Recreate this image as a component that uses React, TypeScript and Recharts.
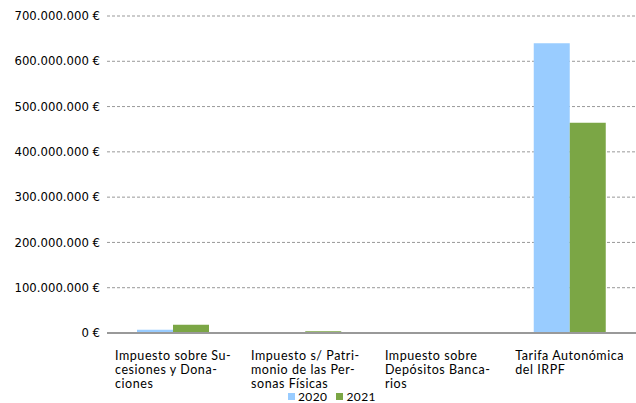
import React from 'react';
import { BarChart, Bar, XAxis, YAxis, CartesianGrid } from 'recharts';

const categories = [
  'Impuesto sobre Sucesiones y Donaciones',
  'Impuesto s/ Patrimonio de las Personas Físicas',
  'Impuesto sobre Depósitos Bancarios',
  'Tarifa Autonómica del IRPF',
];
// wrapped tick text, as in the original
const tickLines = [
  ['Impuesto sobre Su-', 'cesiones y Dona-', 'ciones'],
  ['Impuesto s/ Patri-', 'monio de las Per-', 'sonas Físicas'],
  ['Impuesto sobre', 'Depósitos Banca-', 'rios'],
  ['Tarifa Autonómica', 'del IRPF'],
];
const values2020 = [7000000, 1500000, 300000, 640000000];
const values2021 = [18000000, 4000000, 300000, 464000000];
const yTicks = [0, 100000000, 200000000, 300000000, 400000000, 500000000, 600000000, 700000000];

const data = categories.map((name, i) => ({
  name,
  y2020: values2020[i],
  y2021: values2021[i],
}));

const BLUE = '#99CCFF';
const GREEN = '#7BA645';
const LABEL_FONT = '12.5px Lato';
const LABEL_SPACING = '0.55px';

const fmtEuro = (v: number) =>
  String(Math.round(v)).replace(/\B(?=(\d{3})+(?!\d))/g, '.') + ' €';

let canvas: HTMLCanvasElement | null = null;
const measure = (s: string) => {
  if (!canvas) canvas = document.createElement('canvas');
  const ctx = canvas.getContext('2d') as any;
  ctx.font = LABEL_FONT;
  ctx.letterSpacing = LABEL_SPACING;
  return ctx.measureText(s).width;
};

const CategoryTick = (props: any) => {
  const { x, y, payload } = props;
  const lines = tickLines[payload.index] || [String(payload.value)];
  const w = Math.max(...lines.map(measure));
  return (
    <g>
      {lines.map((l, i) => (
        <text
          key={i}
          x={x - w / 2}
          y={y + 18.5 + i * 14}
          textAnchor="start"
          fill="#000"
          style={{ font: LABEL_FONT, letterSpacing: LABEL_SPACING }}
        >
          {l}
        </text>
      ))}
    </g>
  );
};

export default function App() {
  return (
    <div style={{ position: 'relative', width: 636, height: 403, background: '#fff' }}>
      <style>{'body{margin:0}'}</style>
      <BarChart
        width={636}
        height={403}
        data={data}
        margin={{ top: 16, right: 0, left: 0, bottom: 0 }}
        barCategoryGap={30}
        barGap={0}
      >
        <CartesianGrid vertical={false} stroke="#999" strokeDasharray="3 2" />
        <XAxis
          dataKey="name"
          height={70}
          tickLine={false}
          axisLine={{ stroke: '#999', strokeWidth: 2 }}
          tick={<CategoryTick />}
          interval={0}
        />
        <YAxis
          width={107}
          domain={[0, 700000000]}
          ticks={yTicks}
          tickFormatter={fmtEuro}
          axisLine={false}
          tickLine={false}
          tickSize={0}
          tickMargin={7}
          tick={{ fill: '#000', fontSize: 11.7, fontFamily: 'DejaVu Sans' }}
        />
        <Bar dataKey="y2020" fill={BLUE} isAnimationActive={false} />
        <Bar dataKey="y2021" fill={GREEN} isAnimationActive={false} />
      </BarChart>
      <div
        style={{
          position: 'absolute',
          top: 390,
          left: 288,
          display: 'flex',
          alignItems: 'center',
          font: '12px Lato',
          lineHeight: '13px',
          letterSpacing: '0.4px',
          color: '#000',
        }}
      >
        <span style={{ width: 7, height: 7, background: BLUE, display: 'inline-block', marginRight: 3 }} />
        <span style={{ marginRight: 9 }}>2020</span>
        <span style={{ width: 7, height: 7, background: GREEN, display: 'inline-block', marginRight: 3 }} />
        <span>2021</span>
      </div>
    </div>
  );
}
